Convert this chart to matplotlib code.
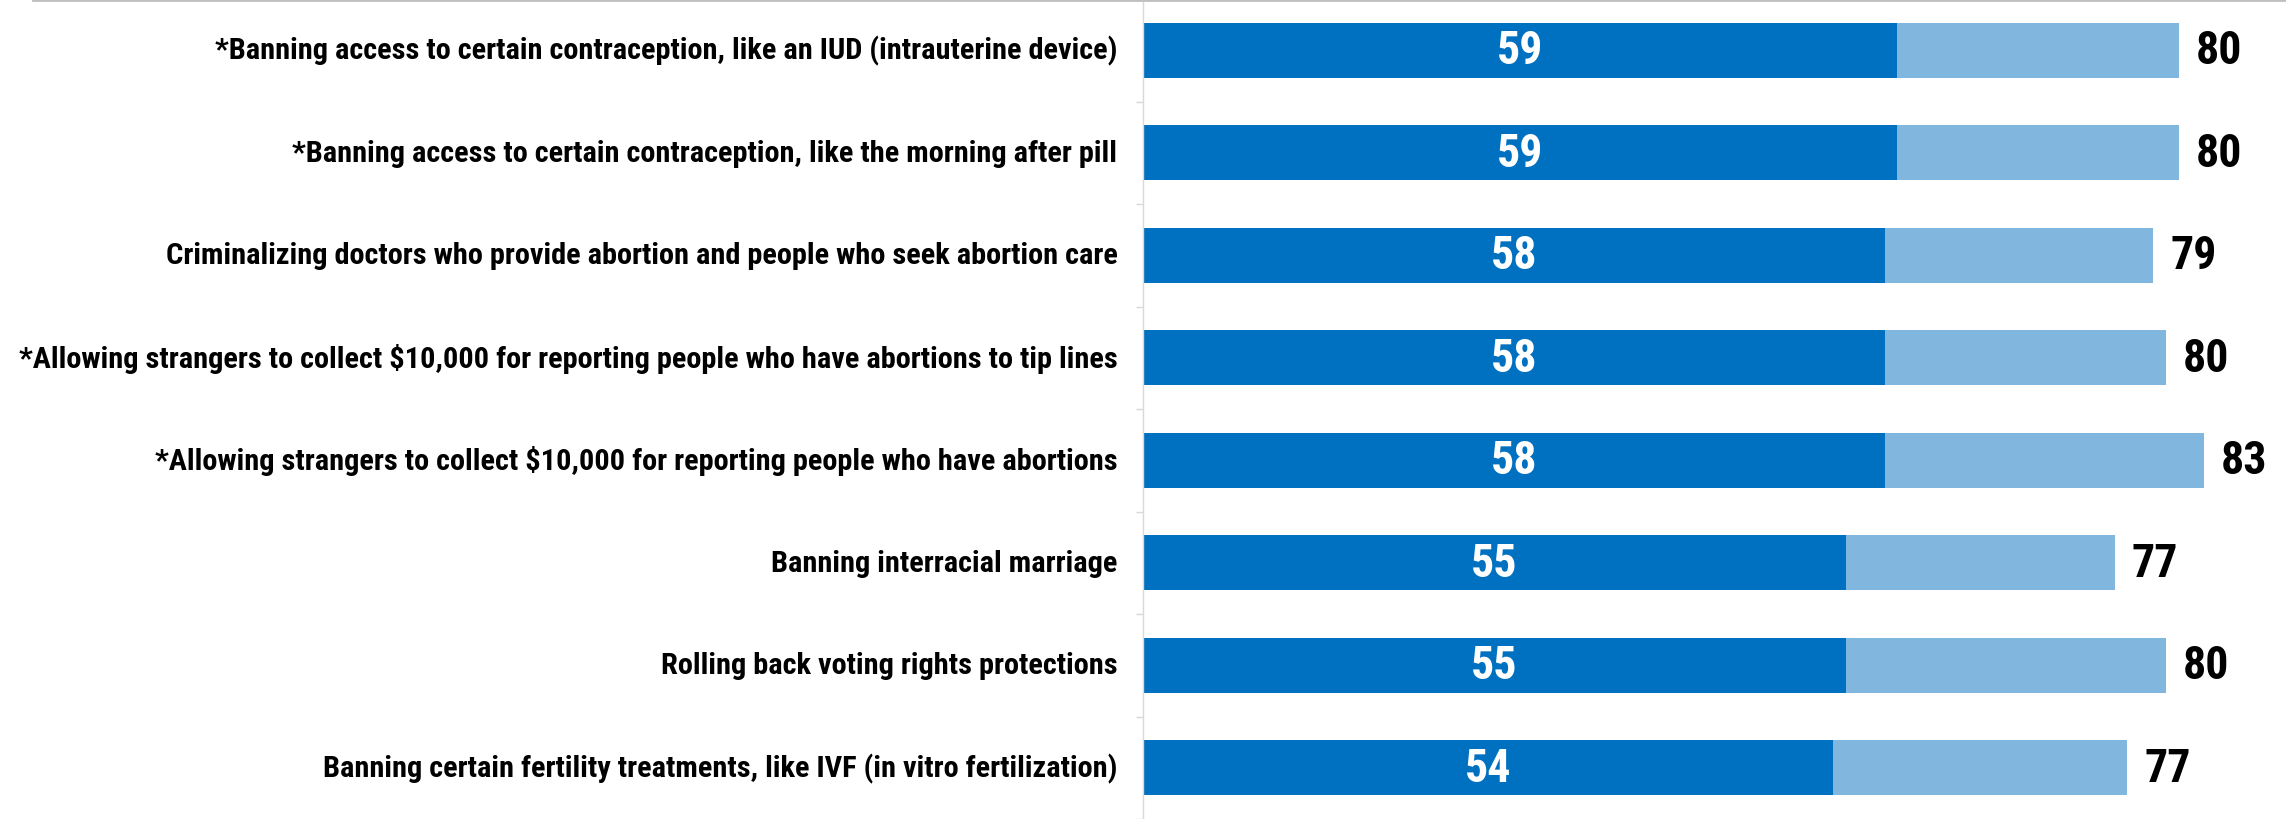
import matplotlib
matplotlib.use("Agg")
import matplotlib.pyplot as plt
from matplotlib import font_manager
from matplotlib.lines import Line2D
import numpy as np

categories = [
    "*Banning access to certain contraception, like an IUD (intrauterine device)",
    "*Banning access to certain contraception, like the morning after pill",
    "Criminalizing doctors who provide abortion and people who seek abortion care",
    "*Allowing strangers to collect $10,000 for reporting people who have abortions to tip lines",
    "*Allowing strangers to collect $10,000 for reporting people who have abortions",
    "Banning interracial marriage",
    "Rolling back voting rights protections",
    "Banning certain fertility treatments, like IVF (in vitro fertilization)",
]
strong = [59, 59, 58, 58, 58, 55, 55, 54]
somewhat = [22, 22, 21, 22, 25, 21, 25, 23]
total_labels = [80, 80, 79, 80, 83, 77, 80, 77]


def pick_family(cands):
    for name in cands:
        try:
            font_manager.findfont(font_manager.FontProperties(family=name),
                                  fallback_to_default=False)
            return name
        except Exception:
            continue
    return "DejaVu Sans"


FAMILY = pick_family(["Liberation Sans Narrow", "Roboto Condensed",
                      "Open Sans Condensed", "Noto Sans", "Liberation Sans"])

DARK = "#0070C0"
LIGHT = "#81B6DE"

W, H, DPI = 2286, 820, 100
fig = plt.figure(figsize=(W / DPI, H / DPI), dpi=DPI)
ax = fig.add_axes([1143 / W, 0, 1 - 1143 / W, 1])

y = np.arange(len(categories))
ax.barh(y, strong, height=0.54, color=DARK, edgecolor="none")
ax.barh(y, somewhat, left=strong, height=0.54, color=LIGHT, edgecolor="none")

ax.set_xlim(0, 89.4)
ax.set_ylim(7.452, -0.4175)

for sp in ["top", "right", "bottom"]:
    ax.spines[sp].set_visible(False)
ax.spines["left"].set_color("#D9D9D9")
ax.spines["left"].set_linewidth(1.0)
ax.set_xticks([])
ax.set_yticks(np.arange(len(categories) + 1) - 0.5)
ax.set_yticklabels([])
ax.tick_params(axis="y", length=5, color="#D9D9D9", width=1.0)

num_kw = dict(family=FAMILY, fontweight="bold", fontsize=33)
for i, (s, m, t) in enumerate(zip(strong, somewhat, total_labels)):
    ax.text(s / 2, i, f"{s}", color="white", ha="center", va="center", **num_kw)
    ax.text(s + m + 1.33, i, f"{t}", color="black", ha="left", va="center", **num_kw)

label_objs = []
for i, c in enumerate(categories):
    label_objs.append(ax.text(-2.0, i, c, ha="right", va="center",
                              family=FAMILY, fontweight="bold", fontsize=21,
                              color="black"))

# fit the longest category label into the space left of the axis
fig.canvas.draw()
r = fig.canvas.get_renderer()
widest = max(t.get_window_extent(r).width for t in label_objs)
scale = 1102.0 / widest
for t in label_objs:
    t.set_fontsize(21 * scale)

fig.add_artist(Line2D([33 / W, 1], [1 - 1.2 / H, 1 - 1.2 / H],
                      transform=fig.transFigure, color="#BFBFBF", lw=2.0))

fig.savefig("out.png", dpi=DPI)
